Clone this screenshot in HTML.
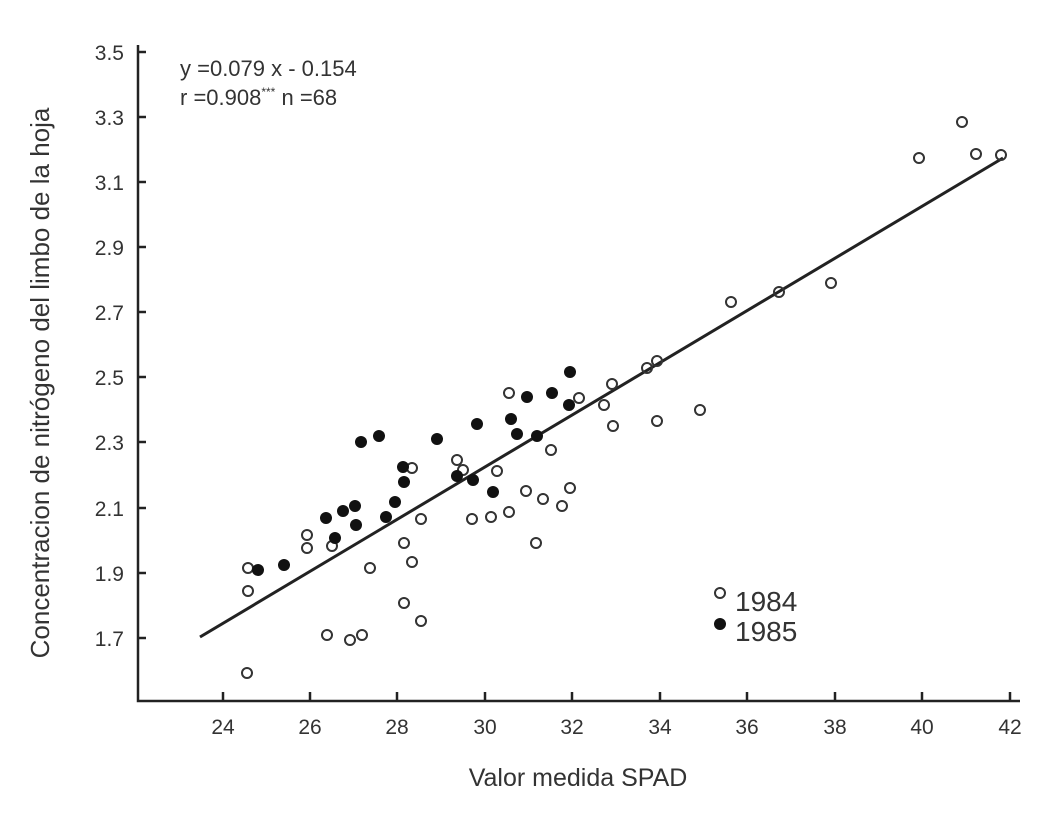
<!DOCTYPE html>
<html><head><style>body{margin:0;background:#fff}svg{display:block}</style></head><body>
<svg width="1047" height="829" xmlns="http://www.w3.org/2000/svg" font-family="Liberation Sans, sans-serif" fill="#333">
<g stroke="#222" stroke-width="2.5" fill="none">
<path d="M138,45 V701 H1020"/>
<path d="M138,52 h8 M138,117 h8 M138,182 h8 M138,247 h8 M138,312 h8 M138,377 h8 M138,442 h8 M138,508 h8 M138,573 h8 M138,638 h8"/>
<path d="M223,701 v-9 M310,701 v-9 M397,701 v-9 M485,701 v-9 M572,701 v-9 M660,701 v-9 M747,701 v-9 M835,701 v-9 M922,701 v-9 M1010,701 v-9"/>
<path d="M200,637 L1003,158" stroke-width="3"/>
</g>
<g font-size="21" text-anchor="end">
<text x="124" y="60">3.5</text><text x="124" y="125">3.3</text><text x="124" y="190">3.1</text><text x="124" y="255">2.9</text><text x="124" y="320">2.7</text><text x="124" y="385">2.5</text><text x="124" y="450">2.3</text><text x="124" y="516">2.1</text><text x="124" y="581">1.9</text><text x="124" y="646">1.7</text>
</g>
<g font-size="21" text-anchor="middle">
<text x="223" y="734">24</text><text x="310" y="734">26</text><text x="397" y="734">28</text><text x="485" y="734">30</text><text x="572" y="734">32</text><text x="660" y="734">34</text><text x="747" y="734">36</text><text x="835" y="734">38</text><text x="922" y="734">40</text><text x="1010" y="734">42</text>
<text x="578" y="786" font-size="25">Valor medida SPAD</text>
<text transform="translate(49,383) rotate(-90)" font-size="26">Concentracion de nitrógeno del limbo de la hoja</text>
</g>
<text x="180" y="76" font-size="22">y =0.079 x - 0.154</text>
<text x="180" y="105" font-size="22">r =0.908<tspan font-size="12" dy="-9">***</tspan><tspan dy="9"> n =68</tspan></text>
<text x="735" y="611" font-size="28">1984</text>
<text x="735" y="641" font-size="28">1985</text>
<g fill="none" stroke="#333" stroke-width="2">
<circle cx="247" cy="673" r="5"/><circle cx="248" cy="591" r="5"/><circle cx="248" cy="568" r="5"/><circle cx="307" cy="535" r="5"/><circle cx="307" cy="548" r="5"/><circle cx="332" cy="546" r="5"/><circle cx="327" cy="635" r="5"/><circle cx="350" cy="640" r="5"/><circle cx="362" cy="635" r="5"/><circle cx="370" cy="568" r="5"/><circle cx="404" cy="543" r="5"/><circle cx="404" cy="603" r="5"/><circle cx="412" cy="562" r="5"/><circle cx="412" cy="468" r="5"/><circle cx="421" cy="621" r="5"/><circle cx="421" cy="519" r="5"/><circle cx="457" cy="460" r="5"/><circle cx="463" cy="470" r="5"/><circle cx="472" cy="519" r="5"/><circle cx="497" cy="471" r="5"/><circle cx="491" cy="517" r="5"/><circle cx="509" cy="393" r="5"/><circle cx="509" cy="512" r="5"/><circle cx="526" cy="491" r="5"/><circle cx="536" cy="543" r="5"/><circle cx="543" cy="499" r="5"/><circle cx="551" cy="450" r="5"/><circle cx="562" cy="506" r="5"/><circle cx="570" cy="488" r="5"/><circle cx="579" cy="398" r="5"/><circle cx="604" cy="405" r="5"/><circle cx="612" cy="384" r="5"/><circle cx="613" cy="426" r="5"/><circle cx="647" cy="368" r="5"/><circle cx="657" cy="361" r="5"/><circle cx="657" cy="421" r="5"/><circle cx="700" cy="410" r="5"/><circle cx="731" cy="302" r="5"/><circle cx="779" cy="292" r="5"/><circle cx="831" cy="283" r="5"/><circle cx="919" cy="158" r="5"/><circle cx="962" cy="122" r="5"/><circle cx="976" cy="154" r="5"/><circle cx="1001" cy="155" r="5"/><circle cx="720" cy="593" r="5"/>
</g>
<g fill="#111">
<circle cx="258" cy="570" r="6"/><circle cx="284" cy="565" r="6"/><circle cx="326" cy="518" r="6"/><circle cx="335" cy="538" r="6"/><circle cx="343" cy="511" r="6"/><circle cx="356" cy="525" r="6"/><circle cx="355" cy="506" r="6"/><circle cx="361" cy="442" r="6"/><circle cx="379" cy="436" r="6"/><circle cx="386" cy="517" r="6"/><circle cx="395" cy="502" r="6"/><circle cx="403" cy="467" r="6"/><circle cx="404" cy="482" r="6"/><circle cx="437" cy="439" r="6"/><circle cx="457" cy="476" r="6"/><circle cx="473" cy="480" r="6"/><circle cx="477" cy="424" r="6"/><circle cx="493" cy="492" r="6"/><circle cx="511" cy="419" r="6"/><circle cx="517" cy="434" r="6"/><circle cx="527" cy="397" r="6"/><circle cx="537" cy="436" r="6"/><circle cx="552" cy="393" r="6"/><circle cx="570" cy="372" r="6"/><circle cx="569" cy="405" r="6"/><circle cx="720" cy="624" r="6"/>
</g>
</svg>
</body></html>
